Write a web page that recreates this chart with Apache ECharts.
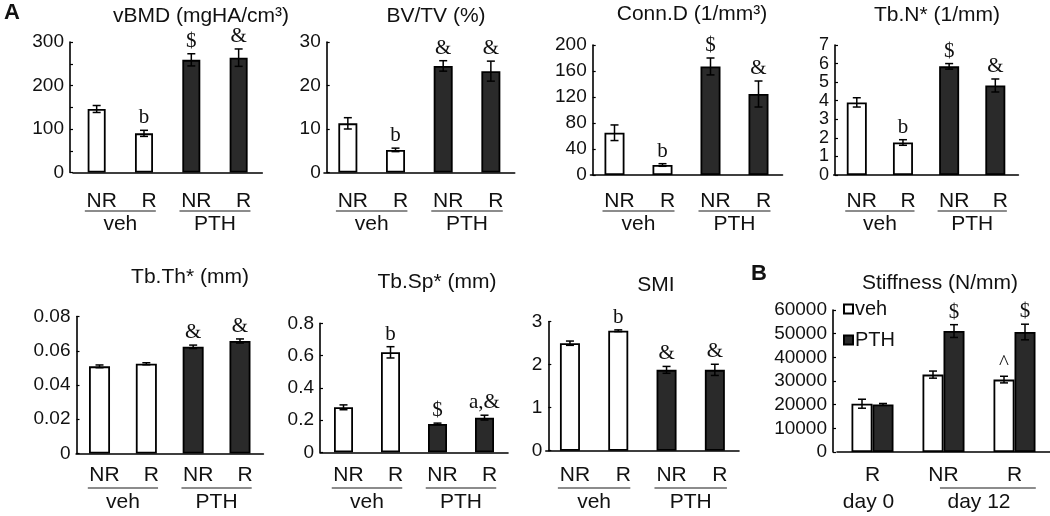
<!DOCTYPE html>
<html><head><meta charset="utf-8">
<script src="https://cdn.jsdelivr.net/npm/echarts@6/dist/echarts.min.js"></script>
<style>html,body{margin:0;padding:0;background:#fff}#c{width:1050px;height:516px}</style>
</head><body><div id="c"></div>
<script>
// ---------- data ----------
const cats = ['NR', 'R', 'NR', 'R'];
const groups = ['veh', 'PTH'];

const vbmd = [146, 90, 259, 264];
const vbmdErr = [8, 7, 14, 20];
const vbmdNote = ['', 'b', '$', '&'];

const bvtv = [11.3, 5.2, 24.5, 23.3];
const bvtvErr = [1.3, 0.4, 1.2, 2.3];
const bvtvNote = ['', 'b', '&', '&'];

const connd = [65, 15.4, 167, 124.6];
const conndErr = [12, 2, 13, 20];
const conndNote = ['', 'b', '$', '&'];

const tbn = [3.91, 1.75, 5.85, 4.82];
const tbnErr = [0.25, 0.15, 0.15, 0.35];
const tbnNote = ['', 'b', '$', '&'];

const tbth = [0.0509, 0.0524, 0.0623, 0.0657];
const tbthErr = [0.0008, 0.0006, 0.001, 0.0012];
const tbthNote = ['', '', '&', '&'];

const tbsp = [0.279, 0.62, 0.176, 0.215];
const tbspErr = [0.015, 0.035, 0.005, 0.015];
const tbspNote = ['', 'b', '$', 'a,&'];

const smi = [2.50, 2.79, 1.88, 1.88];
const smiErr = [0.05, 0.02, 0.08, 0.13];
const smiNote = ['', 'b', '&', '&'];

const stiffCats = ['R', 'NR', 'R'];
const stiffGroups = ['day 0', 'day 12'];
const stiffVeh = [20400, 32700, 30600];
const stiffVehErr = [1900, 1500, 1400];
const stiffVehNote = ['', '', '^'];
const stiffPth = [20100, 51100, 50700];
const stiffPthErr = [400, 2700, 3300];
const stiffPthNote = ['', '$', '$'];

// ---------- layout / style ----------
const SANS = '"Liberation Sans", Arial, sans-serif';
const NARROW = '"Liberation Sans Narrow", "Liberation Sans", Arial, sans-serif';
const SERIF = '"Liberation Serif", "Times New Roman", serif';
const WHITE = '#ffffff', DARK = '#2a2a2a';
const TITLE_FONT = '21px ' + SANS;
const CAT_SIZE = 21, TICK_SIZE = 19;

const panels = [
  {title: 'vBMD (mgHA/cm³)', tx: 201, ty: 16, vals: vbmd, err: vbmdErr, note: vbmdNote,
   axisX: 70, left: 73, width: 189.3, top: 42, bottom: 172.5, max: 300, interval: 100, minor: true, barW: 18, row: 1},
  {title: 'BV/TV (%)', tx: 436, ty: 16, vals: bvtv, err: bvtvErr, note: bvtvNote,
   axisX: 326.7, left: 324, width: 190.7, top: 42, bottom: 172.5, max: 30, interval: 10, barW: 19, row: 1},
  {title: 'Conn.D (1/mm³)', tx: 692, ty: 14, vals: connd, err: conndErr, note: conndNote,
   axisX: 592.7, left: 590.5, width: 192, top: 45, bottom: 175, max: 200, interval: 40, barW: 20, row: 1},
  {title: 'Tb.N* (1/mm)', tx: 937, ty: 15, vals: tbn, err: tbnErr, note: tbnNote,
   axisX: 835, left: 833.7, width: 184.7, top: 45, bottom: 175, max: 7, interval: 1, barW: 20, row: 1, narrow: true},
  {title: 'Tb.Th* (mm)', tx: 190, ty: 277, vals: tbth, err: tbthErr, note: tbthNote,
   axisX: 76.5, left: 76.1, width: 187.3, top: 316.5, bottom: 453.5, max: 0.08, interval: 0.02, barW: 21, row: 2},
  {title: 'Tb.Sp* (mm)', tx: 437, ty: 282, vals: tbsp, err: tbspErr, note: tbspNote,
   axisX: 320, left: 320, width: 188, top: 323.3, bottom: 452.3, max: 0.8, interval: 0.2, barW: 19, row: 2},
  {title: 'SMI', tx: 656, ty: 285, vals: smi, err: smiErr, note: smiNote,
   axisX: 548.3, left: 545.8, width: 193.2, top: 321.7, bottom: 450.7, max: 3, interval: 1, barW: 20, row: 2}
];
const stiff = {title: 'Stiffness (N/mm)', tx: 940, ty: 283, axisX: 833, left: 837, width: 217,
  top: 310, bottom: 452, max: 60000, interval: 10000, barW: 21, row: 2, shift: 0};

const rowCfg = {1: {labelY: 201, underY: 211, groupY: 224}, 2: {labelY: 475, underY: 488, groupY: 502}};

const grids = [], xAxes = [], yAxes = [], series = [];

function addAxes(p, i, categories, labelShift) {
  grids.push({left: p.left, width: p.width, top: p.top, height: p.bottom - p.top, containLabel: false});
  const rc = rowCfg[p.row];
  xAxes.push({
    gridIndex: i, type: 'category', data: categories,
    axisLine: {show: true, lineStyle: {color: '#000', width: 1.6}},
    axisTick: {show: false},
    axisLabel: {fontSize: CAT_SIZE, fontFamily: SANS, color: '#111',
      margin: rc.labelY - CAT_SIZE / 2 - p.bottom, padding: [0, 0, 0, labelShift * 2]}
  });
  yAxes.push({
    gridIndex: i, type: 'value', min: 0, max: p.max, interval: p.interval,
    offset: p.left - p.axisX,
    axisLine: {show: true, lineStyle: {color: '#000', width: 1.6}},
    axisTick: {show: true, inside: true, length: 3, lineStyle: {color: '#000', width: 1.2}},
    minorTick: {show: !!p.minor, splitNumber: 2, length: 3, lineStyle: {color: '#000', width: 1.2}},
    splitLine: {show: false},
    axisLabel: {fontSize: p.narrow ? 18 : TICK_SIZE, fontFamily: p.narrow ? NARROW : SANS, color: '#111', margin: 6,
      formatter: v => String(+v.toFixed(6))}
  });
}

function errSeries(i, vals, errs, notes, shift) {
  return {
    type: 'custom', xAxisIndex: i, yAxisIndex: i, z: 10, silent: true,
    data: vals.map((v, k) => [k, v, errs[k]]),
    renderItem(params, api) {
      const k = api.value(0), v = api.value(1), e = api.value(2);
      const top = api.coord([k, v + e]);
      const bot = api.coord([k, v - e]);
      const x = top[0] + shift;
      const cap = 4;
      const ls = {stroke: '#000', lineWidth: 1.5};
      const children = [
        {type: 'line', shape: {x1: x, y1: top[1], x2: x, y2: bot[1]}, style: ls},
        {type: 'line', shape: {x1: x - cap, y1: top[1], x2: x + cap, y2: top[1]}, style: ls},
        {type: 'line', shape: {x1: x - cap, y1: bot[1], x2: x + cap, y2: bot[1]}, style: ls}
      ];
      const n = notes[params.dataIndex];
      if (n) {
        children.push({type: 'text', style: {text: n, x: x, y: top[1] - 2, textAlign: 'center',
          textVerticalAlign: 'bottom', font: '21px ' + SERIF, fill: '#111'}});
      }
      return {type: 'group', children};
    }
  };
}

panels.forEach((p, i) => {
  addAxes(p, i, cats, 5);
  series.push({
    type: 'bar', name: 'p' + i, xAxisIndex: i, yAxisIndex: i, barWidth: p.barW, silent: true,
    data: p.vals.map((v, k) => ({value: v, itemStyle: {color: k < 2 ? WHITE : DARK}})),
    itemStyle: {borderColor: '#000', borderWidth: 1.8}
  });
  series.push(errSeries(i, p.vals, p.err, p.note, 0));
});

const si = panels.length;
addAxes(stiff, si, stiffCats, 0);
series.push({
  type: 'bar', name: 'veh', xAxisIndex: si, yAxisIndex: si, barWidth: stiff.barW, barGap: '0%', silent: true,
  data: stiffVeh, itemStyle: {color: WHITE, borderColor: '#000', borderWidth: 1.8}
});
series.push({
  type: 'bar', name: 'PTH', xAxisIndex: si, yAxisIndex: si, barWidth: stiff.barW, barGap: '0%', silent: true,
  data: stiffPth, itemStyle: {color: DARK, borderColor: '#000', borderWidth: 1.8}
});
series.push(errSeries(si, stiffVeh, stiffVehErr, stiffVehNote, -stiff.barW / 2));
series.push(errSeries(si, stiffPth, stiffPthErr, stiffPthNote, stiff.barW / 2));

const chart = echarts.init(document.getElementById('c'), null, {renderer: 'canvas'});
chart.setOption({
  animation: false,
  backgroundColor: '#fff',
  grid: grids, xAxis: xAxes, yAxis: yAxes, series,
  legend: {
    data: ['veh', 'PTH'], orient: 'vertical', left: 843, top: 299, padding: 0,
    itemWidth: 9, itemHeight: 9, itemGap: 11, icon: 'rect',
    textStyle: {fontSize: 20, fontFamily: SANS, color: '#111', padding: [0, 0, 0, -3]},
    selectedMode: false
  }
});

// ---------- annotations positioned through the axes ----------
const g = [];
const txt = (text, x, y, font) => ({type: 'text', silent: true, style: {text, x, y, font, fill: '#111', textAlign: 'center', textVerticalAlign: 'middle'}});
[...panels, stiff].forEach(p => g.push(txt(p.title, p.tx, p.ty, TITLE_FONT)));
g.push(txt('A', 12, 13, 'bold 22px ' + SANS));
g.push(txt('B', 759, 274, 'bold 22px ' + SANS));

function px(i, k) { return chart.convertToPixel({gridIndex: i}, [k, 0])[0]; }

panels.forEach((p, i) => {
  const rc = rowCfg[p.row];
  const bw = px(i, 1) - px(i, 0);
  [[0, 1], [2, 3]].forEach((pair, gi) => {
    const a = px(i, pair[0]), b = px(i, pair[1]);
    g.push({type: 'line', silent: true, shape: {x1: a - 0.25 * bw, y1: rc.underY, x2: b + 0.25 * bw, y2: rc.underY},
      style: {stroke: '#666', lineWidth: 1.6}});
    g.push(txt(groups[gi], (a + b) / 2, rc.groupY, CAT_SIZE + 'px ' + SANS));
  });
});
{
  const rc = rowCfg[2];
  const bw = px(si, 1) - px(si, 0);
  const a0 = px(si, 0), a = px(si, 1), b = px(si, 2);
  g.push(txt(stiffGroups[0], a0 - 4, rc.groupY, CAT_SIZE + 'px ' + SANS));
  g.push({type: 'line', silent: true, shape: {x1: a - 0.05 * bw, y1: rc.underY, x2: b + 0.3 * bw, y2: rc.underY},
    style: {stroke: '#666', lineWidth: 1.6}});
  g.push(txt(stiffGroups[1], (a + b) / 2, rc.groupY, CAT_SIZE + 'px ' + SANS));
}
chart.setOption({graphic: g});
</script>
</body></html>
